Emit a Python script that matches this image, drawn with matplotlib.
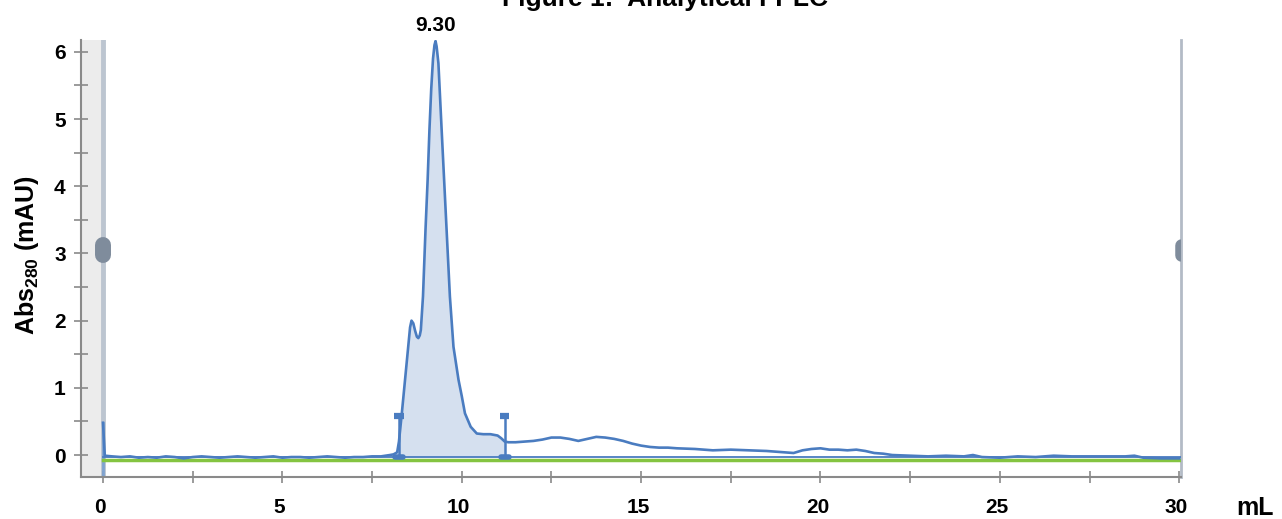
import matplotlib
matplotlib.use("Agg")
import matplotlib.pyplot as plt
import matplotlib.transforms as mtransforms
from matplotlib.ticker import MultipleLocator

plt.rcParams['font.family'] = ['Liberation Sans', 'DejaVu Sans']
plt.rcParams['mathtext.fontset'] = 'custom'
plt.rcParams['mathtext.rm'] = 'Liberation Sans'
plt.rcParams['mathtext.bf'] = 'Liberation Sans:bold'

# ---- data ----
volume_ml = [0.0, 0.05, 0.25, 0.5, 0.75, 1.0, 1.25, 1.5, 1.75, 2.0, 2.25, 2.5, 2.75,
             3.0, 3.25, 3.5, 3.75, 4.0, 4.25, 4.5, 4.75, 5.0, 5.25, 5.5, 5.75, 6.0,
             6.25, 6.5, 6.75, 7.0, 7.25, 7.5, 7.75, 8.0, 8.1, 8.2, 8.25, 8.33, 8.42,
             8.51, 8.56, 8.6, 8.65, 8.7, 8.75, 8.79, 8.83, 8.86, 8.92, 8.99, 9.05,
             9.1, 9.15, 9.2, 9.24, 9.27, 9.3, 9.35, 9.44, 9.58, 9.67, 9.77, 9.91,
             10.0, 10.09, 10.25, 10.42, 10.6, 10.8, 11.0, 11.1, 11.2, 11.3,
             11.5, 11.75, 12.0, 12.25, 12.5, 12.75, 13.0, 13.25, 13.5, 13.75, 14.0,
             14.25, 14.5, 14.75, 15.0, 15.25, 15.5, 15.75, 16.0, 16.5, 17.0, 17.5,
             18.0, 18.5, 19.0, 19.25, 19.5, 19.75, 20.0, 20.25, 20.5, 20.75, 21.0,
             21.25, 21.5, 21.75, 22.0, 22.5, 23.0, 23.5, 24.0, 24.25, 24.5, 25.0,
             25.5, 26.0, 26.5, 27.0, 27.5, 28.0, 28.5, 28.75, 29.0, 29.5, 30.0]
abs280 = [0.48, -0.01, -0.02, -0.03, -0.02, -0.04, -0.03, -0.04, -0.02, -0.03, -0.05,
          -0.03, -0.02, -0.03, -0.04, -0.03, -0.02, -0.03, -0.04, -0.03, -0.02, -0.04,
          -0.03, -0.03, -0.04, -0.03, -0.02, -0.03, -0.04, -0.03, -0.03, -0.02, -0.02,
          0.0, 0.01, 0.04, 0.2, 0.62, 1.12, 1.61, 1.9, 2.0, 1.96, 1.85, 1.76, 1.74,
          1.78, 1.86, 2.36, 3.35, 4.1, 4.84, 5.45, 5.9, 6.1, 6.16, 6.08, 5.83, 4.84,
          3.35, 2.36, 1.61, 1.12, 0.88, 0.62, 0.42, 0.32, 0.31, 0.31,
          0.29, 0.25, 0.2, 0.19, 0.19, 0.2, 0.21, 0.23, 0.26, 0.26, 0.24, 0.21, 0.24,
          0.27, 0.26, 0.24, 0.21, 0.17, 0.14, 0.12, 0.11, 0.11, 0.10, 0.09, 0.07,
          0.08, 0.07, 0.06, 0.04, 0.03, 0.07, 0.09, 0.10, 0.08, 0.08, 0.07, 0.08,
          0.06, 0.03, 0.02, 0.0, -0.01, -0.02, -0.01, -0.02, 0.0, -0.03, -0.04,
          -0.02, -0.03, -0.01, -0.02, -0.02, -0.02, -0.02, -0.01, -0.04, -0.05, -0.05]
peak_label = "9.30"
peak_x, peak_y = 9.27, 6.16
integration_start, integration_end = 8.25, 11.2
baseline_level = -0.035
green_level = -0.075
x_tick_labels = ["0", "5", "10", "15", "20", "25", "30"]
y_tick_labels = ["0", "1", "2", "3", "4", "5", "6"]

# ---- figure ----
W, H = 1282, 519
fig = plt.figure(figsize=(W / 100, H / 100), dpi=100)
ax = fig.add_axes([81 / W, (H - 477) / H, (1181 - 81) / W, (477 - 40) / H])
ax.set_xlim(-0.613, 30.05)
ax.set_ylim(-0.327, 6.176)

line_c = '#4a7cc0'
fill_c = '#d5e0ef'

# gray band and handle lines
ax.axvspan(-0.613, 0, color='#ececec', zorder=0, lw=0)
ax.axvline(0, color='#bcc5d0', lw=3.5, zorder=1)
ax.axvline(30.05, color='#b3bbc6', lw=2, zorder=1, clip_on=False)
ax.plot([0, 0], [2.97, 3.13], color='#7f8c9c', lw=11.5, solid_capstyle='round', zorder=6)
ax.plot([30.05, 30.05], [2.97, 3.13], color='#7f8c9c', lw=9, solid_capstyle='round', zorder=6)

# initial spike line
ax.plot([0, 0], [-0.327, abs280[0]], color='#7fa3d1', lw=2, zorder=2)

# baselines
ax.plot([0, 30.05], [green_level, green_level], color='#84c441', lw=2.5, zorder=2)
ax.plot([0, 30.05], [baseline_level, baseline_level], color=line_c, lw=1.3, zorder=3)

# integration fill
xs = [x for x in volume_ml if integration_start <= x <= integration_end]
ys = [y for x, y in zip(volume_ml, abs280) if integration_start <= x <= integration_end]
ax.fill_between(xs, baseline_level, ys, color=fill_c, lw=0, zorder=2)

# curve
ax.plot(volume_ml, abs280, color=line_c, lw=1.9, zorder=4, solid_joinstyle='round')

# integration markers
for xm in (integration_start, integration_end):
    ax.plot([xm, xm], [baseline_level, 0.58], color=line_c, lw=1.8, zorder=5)
    ax.plot([xm - 0.13, xm + 0.13], [0.585, 0.585], color=line_c, lw=4.5,
            solid_capstyle='butt', zorder=5)
    ax.plot([xm - 0.11, xm + 0.11], [baseline_level, baseline_level], color=line_c,
            lw=4, solid_capstyle='round', zorder=5)

# peak label
ax.text(peak_x, 6.31, peak_label, ha='center', va='baseline',
        fontsize=15, fontweight='bold', clip_on=False)

# spines / ticks
for s in ('top', 'right'):
    ax.spines[s].set_visible(False)
for s in ('left', 'bottom'):
    ax.spines[s].set_color('#8a8a8a')
    ax.spines[s].set_linewidth(1.5)

ax.set_xticks([0, 5, 10, 15, 20, 25, 30])
ax.set_xticklabels(x_tick_labels)
ax.xaxis.set_minor_locator(MultipleLocator(2.5))
ax.set_yticks([0, 1, 2, 3, 4, 5, 6])
ax.set_yticklabels(y_tick_labels)
ax.yaxis.set_minor_locator(MultipleLocator(0.5))
ax.tick_params(axis='both', which='both', direction='inout', color='#8a8a8a', width=1.2)
ax.tick_params(axis='x', which='both', length=8, pad=11)
ax.tick_params(axis='y', which='both', length=10, pad=6)
shift = mtransforms.ScaledTranslation(-3 / 100, 0, fig.dpi_scale_trans)
for lab in ax.get_xticklabels():
    lab.set_transform(lab.get_transform() + shift)
for lab in ax.get_xticklabels() + ax.get_yticklabels():
    lab.set_fontsize(15)
    lab.set_fontweight('bold')

# texts
fig.text(665 / W, 1 - 6 / H, "Figure 1:  Analytical FPLC", ha='center', va='baseline',
         fontsize=19, fontweight='bold')
fig.text(27 / W, 1 - 255 / H, r"Abs$_{\mathbf{280}}$ (mAU)", rotation=90,
         ha='center', va='center', fontsize=18, fontweight='bold')
fig.text(1255 / W, 1 - 508 / H, "mL", ha='center', va='center',
         fontsize=18, fontweight='bold')

fig.savefig("out.png", dpi=100)
